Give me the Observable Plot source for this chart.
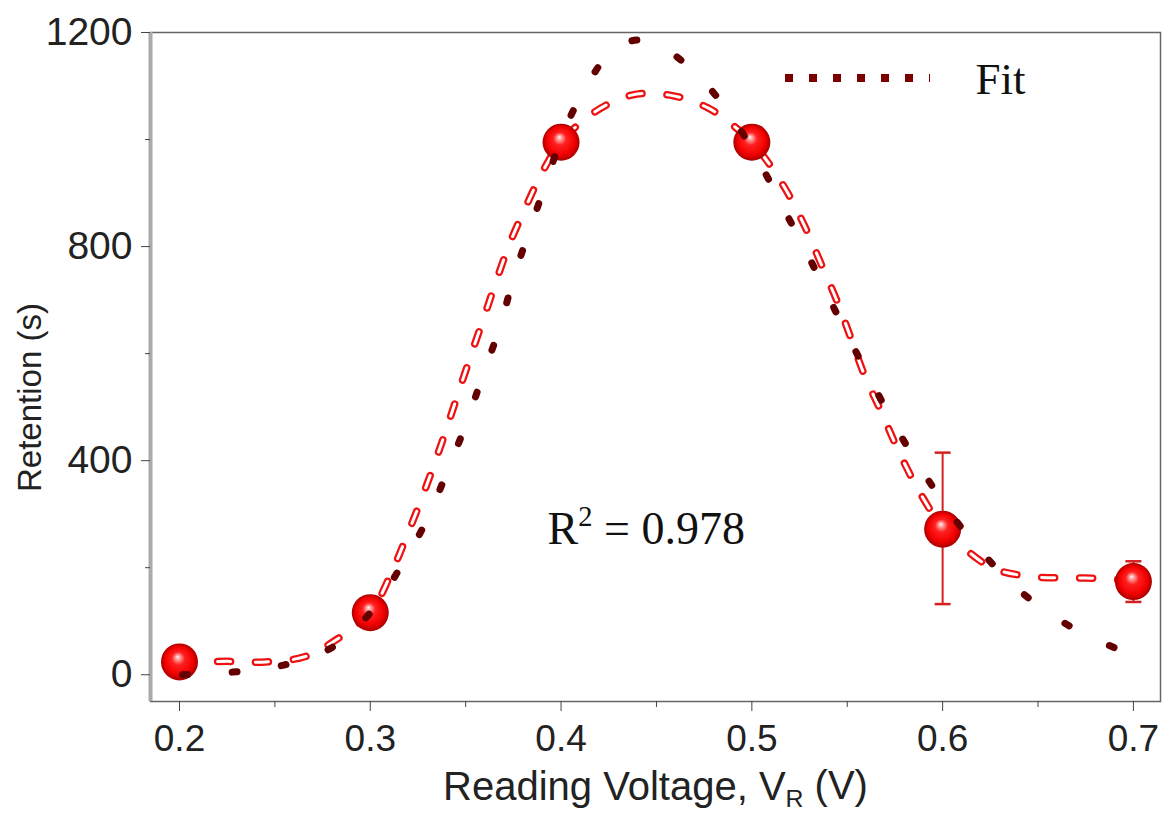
<!DOCTYPE html>
<html><head><meta charset="utf-8">
<script src="https://cdn.jsdelivr.net/npm/d3@7"></script>
<script src="https://cdn.jsdelivr.net/npm/@observablehq/plot@0.6"></script>
<style>body{margin:0;background:#fff}</style>
</head><body><div id="chart"></div>
<script>
// measured data points
const voltage   = [0.2, 0.3, 0.4, 0.5, 0.6, 0.7];
const retention = [24, 116, 995, 995, 272, 174];
const errLow    = [10, 0, 0, 0, 140, 38];
const errHigh   = [10, 0, 0, 0, 143, 38];

// smooth connecting curve (red hollow dashes)
const smoothV = [0.2, 0.225, 0.245, 0.266, 0.282, 0.3, 0.311, 0.319, 0.327, 0.334, 0.34, 0.346, 0.354, 0.36, 0.365, 0.373, 0.382, 0.39, 0.4, 0.417, 0.437, 0.457, 0.477, 0.491, 0.5, 0.509, 0.519, 0.5285, 0.536, 0.545, 0.552, 0.559, 0.568, 0.576, 0.585, 0.594, 0.6, 0.611, 0.627, 0.648, 0.6685, 0.688, 0.7];
const smoothR = [24, 25, 24, 34, 65, 116, 190, 258, 330, 398, 460, 525, 610, 672, 725, 805, 878, 938, 995, 1050, 1083, 1083, 1059, 1024, 995, 955, 899, 832, 770, 695, 628, 560, 490, 425, 360, 305, 272, 237, 198, 183, 181, 179, 174];

// Gaussian "Fit" curve (dark dotted)
const fitV = [0.2016, 0.228, 0.2546, 0.28, 0.3, 0.316, 0.3296, 0.34, 0.35, 0.359, 0.368, 0.3752, 0.3836, 0.3925, 0.401, 0.413, 0.427, 0.44, 0.452, 0.471, 0.488, 0.503, 0.5153, 0.528, 0.54, 0.5515, 0.564, 0.5767, 0.591, 0.607, 0.623, 0.642, 0.666, 0.691];
const fitR = [0, 5, 18, 51, 116, 202, 289, 377, 467, 559, 651, 742, 832, 923, 1011, 1098, 1167, 1186, 1175, 1122, 1050, 964, 880, 794, 707, 625, 539, 455, 372, 288, 219, 152, 92, 49];

// ticks
const xTicks = [0.2, 0.3, 0.4, 0.5, 0.6, 0.7];
const xMinor = [0.25, 0.35, 0.45, 0.55, 0.65];
const yTicks = [0, 400, 800, 1200];
const yMinor = [200, 600, 1000];
const xDomain = [0.1848, 0.7142];
const yDomain = [-50, 1200];

const points = voltage.map((v, i) => ({x: v, y: retention[i], lo: retention[i] - errLow[i], hi: retention[i] + errHigh[i], e: errLow[i] + errHigh[i]}));
const errPts = points.filter(d => d.e > 0);
const smooth = smoothV.map((v, i) => ({x: v, y: smoothR[i]}));
const fit = fitV.map((v, i) => ({x: v, y: fitR[i]}));

const capSymbol = {draw(ctx) { ctx.moveTo(-8, 0); ctx.lineTo(8, 0); }};

const svg = Plot.plot({
  width: 1165, height: 813,
  marginLeft: 150, marginRight: 5, marginTop: 32, marginBottom: 112,
  x: {domain: xDomain},
  y: {domain: yDomain},
  style: {fontFamily: "'Liberation Sans', Arial, sans-serif", color: "#222", background: "#fff"},
  marks: [
    Plot.frame({stroke: "#666", strokeWidth: 1.5}),
    Plot.ruleX([xDomain[0]], {stroke: "#aaa", strokeWidth: 4}),
    Plot.axisY(yMinor, {tickSize: 5, tickFormat: () => "", label: null, stroke: "#444"}),
    Plot.axisY(yTicks, {tickSize: 9, tickPadding: 9, fontSize: 39, label: null, tickFormat: d => String(d), stroke: "#444", fill: "#222"}),
    Plot.axisX(xMinor, {tickSize: 6, tickFormat: () => "", label: null, stroke: "#444"}),
    Plot.axisX(xTicks, {tickSize: 10, tickPadding: 13, fontSize: 37, label: null, tickFormat: d => d.toFixed(1), stroke: "#444", fill: "#222"}),
    Plot.text(["Retention (s)"], {frameAnchor: "left", dx: -120, dy: 125, rotate: -90, fontSize: 33, fill: "#222"}),
    Plot.text(["Reading Voltage, VR (V)"], {frameAnchor: "bottom", dy: 98, lineAnchor: "bottom", fontSize: 40, fill: "#222", className: "xtitle"}),
    // connecting curve, hollow red dashes
    Plot.line(smooth, {x: "x", y: "y", curve: "catmull-rom", stroke: "#ee1111", strokeWidth: 7.5, strokeDasharray: "13,25", strokeLinecap: "round"}),
    Plot.line(smooth, {x: "x", y: "y", curve: "catmull-rom", stroke: "#fff", strokeWidth: 3, strokeDasharray: "13,25", strokeLinecap: "round"}),
    // error bars
    Plot.ruleX(errPts, {x: "x", y1: "lo", y2: "hi", stroke: "#d42020", strokeWidth: 2}),
    Plot.dot(errPts, {x: "x", y: "lo", symbol: capSymbol, stroke: "#d42020", strokeWidth: 2.5}),
    Plot.dot(errPts, {x: "x", y: "hi", symbol: capSymbol, stroke: "#d42020", strokeWidth: 2.5}),
    // spheres
    Plot.dot(points, {x: "x", y: "y", r: 18.5, fill: "url(#sphereGrad)"}),
    // fit curve, dark dots
    Plot.line(fit, {x: "x", y: "y", curve: "catmull-rom", stroke: "#650000", strokeWidth: 7, strokeDasharray: "5,44.6", strokeLinecap: "round"}),
    // annotations
    Plot.text(["R2 = 0.978"], {frameAnchor: "top-left", dx: 397, dy: 511, textAnchor: "start", lineAnchor: "bottom", fontSize: 46, fontFamily: "'Liberation Serif', 'Times New Roman', serif", fill: "#111", className: "r2"}),
    Plot.text(["Fit"], {frameAnchor: "top-left", dx: 825, dy: 61, textAnchor: "start", lineAnchor: "bottom", fontSize: 45, fontFamily: "'Liberation Serif', 'Times New Roman', serif", fill: "#111"})
  ]
});

const s = d3.select(svg);
// sphere gradient
const defs = s.insert("defs", ":first-child");
const g = defs.append("radialGradient").attr("id", "sphereGrad")
  .attr("cx", 0.5).attr("cy", 0.5).attr("r", 0.5).attr("fx", 0.45).attr("fy", 0.36);
[[0, "#ffffff"], [0.1, "#ffb0b0"], [0.35, "#ff2020"], [0.75, "#f20000"], [1, "#a80000"]]
  .forEach(([o, c]) => g.append("stop").attr("offset", o).attr("stop-color", c));

// subscript in x title
const t = s.select("g.xtitle text");
if (!t.empty()) {
  t.text(null);
  t.append("tspan").text("Reading Voltage, V");
  t.append("tspan").attr("font-size", "0.62em").attr("dy", "0.3em").text("R");
  t.append("tspan").attr("dy", "-0.19em").text(" (V)");
}
// superscript in R² annotation
const r = s.select("g.r2 text");
if (!r.empty()) {
  r.text(null);
  r.append("tspan").text("R");
  r.append("tspan").attr("font-size", "0.62em").attr("dy", "-0.62em").text("2");
  r.append("tspan").attr("dy", "0.385em").text(" = 0.978");
}

// legend sample line for the Fit curve
s.append("line").attr("x1", 785).attr("x2", 930).attr("y1", 78).attr("y2", 78)
  .attr("stroke", "#7a0000").attr("stroke-width", 8).attr("stroke-dasharray", "8,16");

document.getElementById("chart").appendChild(svg);
</script>
</body></html>
